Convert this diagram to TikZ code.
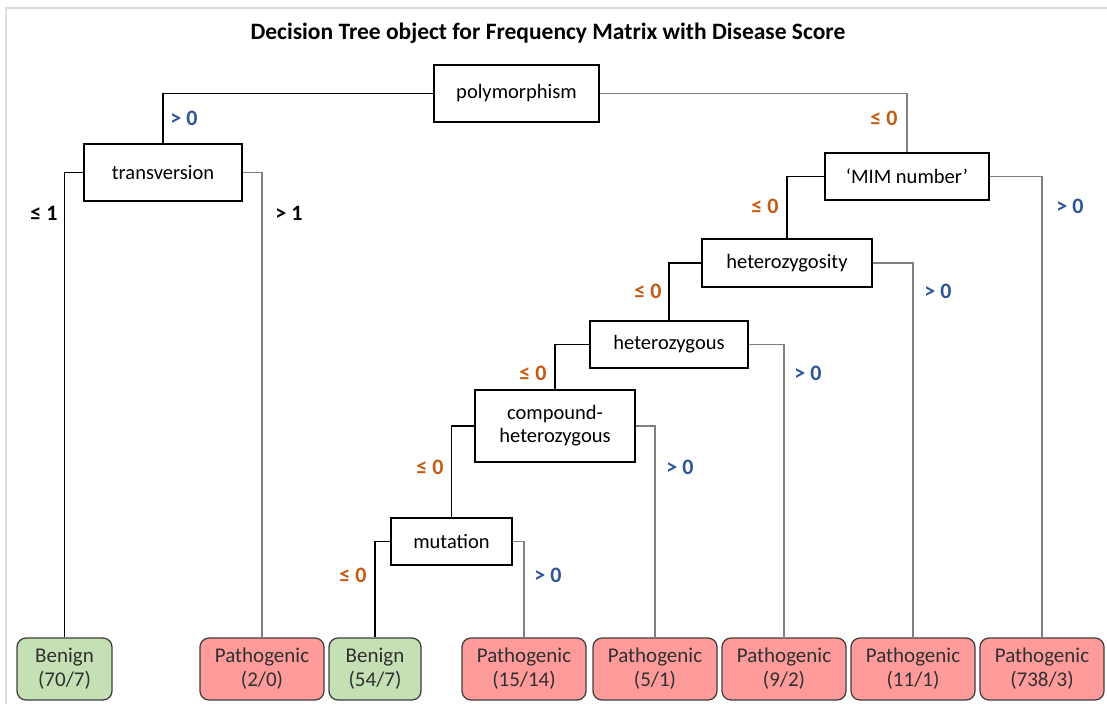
\documentclass[tikz,border=0pt]{standalone}
\usepackage{fontspec}
\setmainfont{Carlito}
\definecolor{lblorange}{HTML}{C55A11}
\definecolor{lblblue}{HTML}{2F5597}
\definecolor{leafgreen}{HTML}{C5E0B4}
\definecolor{leafred}{HTML}{FF9B9B}
\definecolor{leafborder}{HTML}{404040}
\definecolor{leaftext}{HTML}{303030}
\definecolor{framegray}{HTML}{DDDDDD}
\tikzset{
  txt/.style={font=\fontsize{20.5}{23}\selectfont},
  decision/.style={txt, draw=black, line width=2pt, fill=white, inner sep=0pt, align=center},
  leaf/.style={font=\fontsize{21}{24}\selectfont, draw=leafborder, line width=1.3pt, rounded corners=9pt, inner sep=0pt, minimum height=62pt, align=center, text=leaftext},
  benign/.style={leaf, fill=leafgreen},
  patho/.style={leaf, fill=leafred},
  lbl/.style={font=\fontsize{22}{25}\selectfont\bfseries},
  lo/.style={lbl, text=lblorange},
  hi/.style={lbl, text=lblblue},
  lk/.style={lbl, text=black},
  leftedge/.style={draw=black, line width=1.2pt},
  rightedge/.style={draw=gray, line width=1.2pt},
}
\begin{document}
\begin{tikzpicture}[x=1pt,y=-1pt]
\useasboundingbox (0,0) rectangle (1107,704);
\draw[framegray, line width=1.5pt] (6,704) -- (6,8) -- (1107,8);

\node[font=\fontsize{23.5}{26}\selectfont\bfseries] (title) at (548,33) {Decision Tree object for Frequency Matrix with Disease Score};

% decision nodes
\node[decision, minimum width=165pt, minimum height=57pt] (poly) at (516.5,93.5) {polymorphism};
\node[decision, minimum width=158pt, minimum height=57pt] (trans) at (163,172.5) {transversion};
\node[decision, minimum width=164pt, minimum height=47pt] (mim) at (907,176.5) {‘MIM number’};
\node[decision, minimum width=170pt, minimum height=48pt] (hzty) at (787,263) {heterozygosity};
\node[decision, minimum width=158pt, minimum height=47pt] (hzous) at (669,344.5) {heterozygous};
\node[decision, minimum width=160pt, minimum height=72pt] (comp) at (555,426) {compound-\\heterozygous};
\node[decision, minimum width=121pt, minimum height=47pt] (mut) at (451.5,541.5) {mutation};

% leaves
\node[benign, minimum width=95pt] (l1) at (64.5,669) {Benign\\(70/7)};
\node[patho, minimum width=124pt] (l2) at (262,669) {Pathogenic\\(2/0)};
\node[benign, minimum width=92pt] (l3) at (375,669) {Benign\\(54/7)};
\node[patho, minimum width=124pt] (l4) at (524,669) {Pathogenic\\(15/14)};
\node[patho, minimum width=124pt] (l5) at (655,669) {Pathogenic\\(5/1)};
\node[patho, minimum width=124pt] (l6) at (784,669) {Pathogenic\\(9/2)};
\node[patho, minimum width=124pt] (l7) at (913,669) {Pathogenic\\(11/1)};
\node[patho, minimum width=124pt] (l8) at (1042,669) {Pathogenic\\(738/3)};

% connectors
\draw[leftedge] (poly.west) -| (trans.north);
\draw[rightedge] (poly.east) -| (mim.north);
\draw[leftedge] (trans.west) -| (l1.north);
\draw[rightedge] (trans.east) -| (l2.north);
\draw[leftedge] (mim.west) -| (hzty.north);
\draw[rightedge] (mim.east) -| (l8.north);
\draw[leftedge] (hzty.west) -| (hzous.north);
\draw[rightedge] (hzty.east) -| (l7.north);
\draw[leftedge] (hzous.west) -| (comp.north);
\draw[rightedge] (hzous.east) -| (l6.north);
\draw[leftedge] (comp.west) -| (mut.north);
\draw[rightedge] (comp.east) -| (l5.north);
\draw[leftedge] (mut.west) -| (l3.north);
\draw[rightedge] (mut.east) -| (l4.north);

% labels
\node[hi] (e1) at (184,118) {> 0};
\node[lo] (e2) at (884,118) {≤ 0};
\node[lk] (e3) at (44,213) {≤ 1};
\node[lk] (e4) at (289,213) {> 1};
\node[lo] (e5) at (765,206) {≤ 0};
\node[hi] (e6) at (1070,206) {> 0};
\node[lo] (e7) at (648,291) {≤ 0};
\node[hi] (e8) at (938,291) {> 0};
\node[lo] (e9) at (533,373) {≤ 0};
\node[hi] (e10) at (808,373) {> 0};
\node[lo] (e11) at (430,467) {≤ 0};
\node[hi] (e12) at (680,467) {> 0};
\node[lo] (e13) at (353,575) {≤ 0};
\node[hi] (e14) at (548,575) {> 0};
\end{tikzpicture}
\end{document}
